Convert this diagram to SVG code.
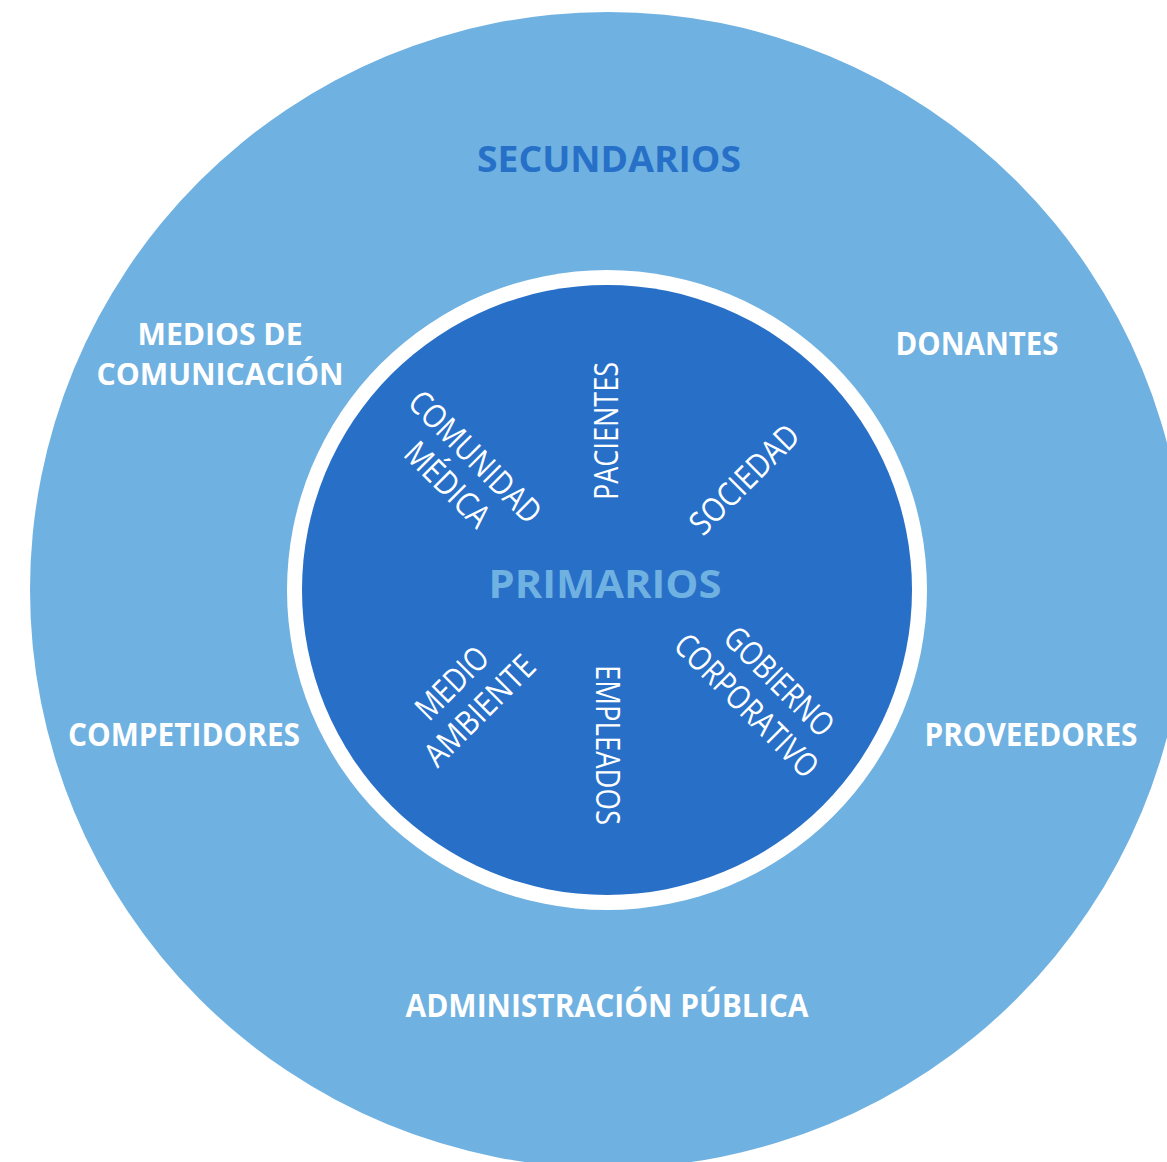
<svg xmlns="http://www.w3.org/2000/svg" width="1167" height="1162" viewBox="0 0 1167 1162">
  <style>
    .outer { font-family: "Open Sans", "Liberation Sans", sans-serif; font-weight: 700; fill: #ffffff; text-anchor: middle; }
    .inner { font-family: "Open Sans", "Liberation Sans", sans-serif; font-weight: 400; fill: #ffffff; text-anchor: middle; font-size: 33px; }
  </style>
  <rect x="0" y="0" width="1167" height="1162" fill="#ffffff"/>
  <g id="secundarios-circle">
    <circle cx="608" cy="590" r="578" fill="#6FB1E1"/>
  </g>
  <g id="primarios-circle">
    <circle cx="607" cy="590" r="320" fill="#ffffff"/>
    <circle cx="607" cy="590" r="305" fill="#276FC7"/>
  </g>
  <g id="connectors"></g>

  <g id="label-secundarios">
    <text class="outer" x="609" y="172" font-size="36" style="fill:#2770C8" textLength="264" lengthAdjust="spacingAndGlyphs">SECUNDARIOS</text>
  </g>
  <g id="node-medios">
    <text class="outer" x="220" y="344.5" font-size="30" textLength="165" lengthAdjust="spacingAndGlyphs">MEDIOS DE</text>
    <text class="outer" x="220" y="385" font-size="30" textLength="247" lengthAdjust="spacingAndGlyphs">COMUNICACIÓN</text>
  </g>
  <g id="node-donantes">
    <text class="outer" x="977" y="355" font-size="32" textLength="163" lengthAdjust="spacingAndGlyphs">DONANTES</text>
  </g>
  <g id="node-competidores">
    <text class="outer" x="184" y="746" font-size="32" textLength="232" lengthAdjust="spacingAndGlyphs">COMPETIDORES</text>
  </g>
  <g id="node-proveedores">
    <text class="outer" x="1031" y="746" font-size="32" textLength="213" lengthAdjust="spacingAndGlyphs">PROVEEDORES</text>
  </g>
  <g id="node-administracion">
    <text class="outer" x="607" y="1017" font-size="32" textLength="403" lengthAdjust="spacingAndGlyphs">ADMINISTRACIÓN PÚBLICA</text>
  </g>
  <g id="label-primarios">
    <text class="outer" x="605" y="598" font-size="40" style="fill:#6FB1E1" textLength="233" lengthAdjust="spacingAndGlyphs">PRIMARIOS</text>
  </g>

  <g id="node-pacientes" transform="translate(605.5,431) rotate(-90)">
    <text class="inner" x="0" y="12" textLength="138" lengthAdjust="spacingAndGlyphs">PACIENTES</text>
  </g>
  <g id="node-sociedad" transform="translate(744,479) rotate(-45)">
    <text class="inner" x="0" y="12" textLength="140" lengthAdjust="spacingAndGlyphs">SOCIEDAD</text>
  </g>
  <g id="node-comunidad" transform="translate(462,470) rotate(45)">
    <text class="inner"><tspan x="0" y="-7" textLength="172" lengthAdjust="spacingAndGlyphs">COMUNIDAD</tspan><tspan x="0" y="32" textLength="106" lengthAdjust="spacingAndGlyphs">MÉDICA</tspan></text>
  </g>
  <g id="node-medio-ambiente" transform="translate(465,696) rotate(-45)">
    <text class="inner"><tspan x="0" y="-7" textLength="88" lengthAdjust="spacingAndGlyphs">MEDIO</tspan><tspan x="0" y="32" textLength="142" lengthAdjust="spacingAndGlyphs">AMBIENTE</tspan></text>
  </g>
  <g id="node-empleados" transform="translate(607.5,745) rotate(90)">
    <text class="inner" x="0" y="12" textLength="160" lengthAdjust="spacingAndGlyphs">EMPLEADOS</text>
  </g>
  <g id="node-gobierno" transform="translate(761,691) rotate(45)">
    <text class="inner"><tspan x="6" y="-8" textLength="140" lengthAdjust="spacingAndGlyphs">GOBIERNO</tspan><tspan x="0" y="32" textLength="188" lengthAdjust="spacingAndGlyphs">CORPORATIVO</tspan></text>
  </g>
</svg>
